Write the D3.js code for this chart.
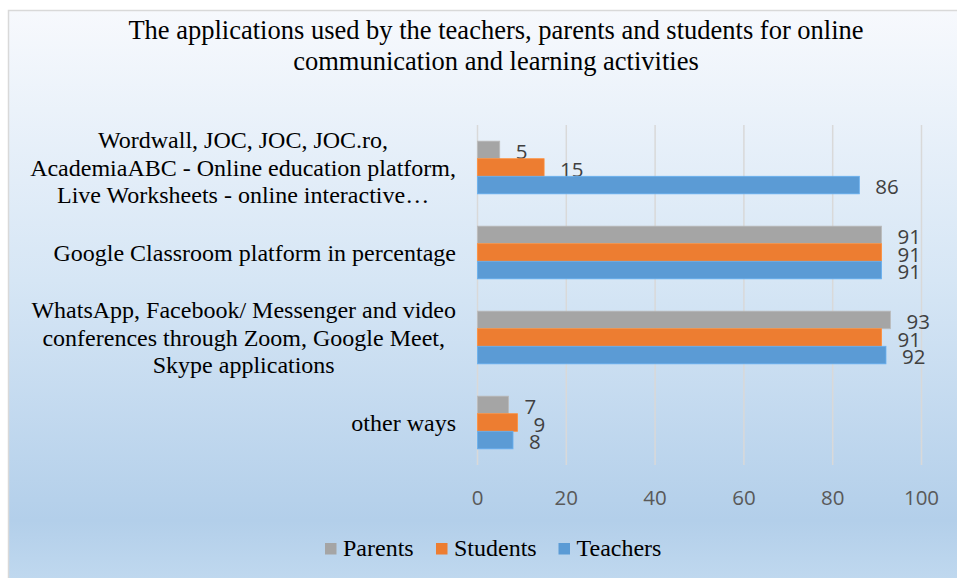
<!DOCTYPE html>
<meta charset="utf-8">
<style>
  body { margin: 0; background: #fff; }
  svg { display: block; }
</style>
<body>
<svg></svg>
<script src="https://cdn.jsdelivr.net/npm/d3@7"></script>
<script>
	// chart values
	var categories = [
		["Wordwall, JOC, JOC, JOC.ro,", "AcademiaABC - Online education platform,", "Live Worksheets - online interactive\u2026"],
		["Google Classroom platform in percentage"],
		["WhatsApp, Facebook/ Messenger and video", "conferences through Zoom, Google Meet,", "Skype applications"],
		["other ways"]
	];
	var seriesNames = ["Parents", "Students", "Teachers"];
	var parents  = [5, 91, 93, 7];
	var students = [15, 91, 91, 9];
	var teachers = [86, 91, 92, 8];
	var xTicks = [0, 20, 40, 60, 80, 100];
	var titleLines = [
		"The applications used by the teachers, parents and students for online",
		"communication and learning activities"
	];

	var SVG_WIDTH = 957,
		SVG_HEIGHT = 578;

	var colors = { "Parents": "#A5A5A5", "Students": "#ED7D31", "Teachers": "#5B9BD5" };
	var values = { "Parents": parents, "Students": students, "Teachers": teachers };

	var svg = d3.select("svg")
				.attr("width", SVG_WIDTH)
				.attr("height", SVG_HEIGHT);

	var defs = svg.append("defs");
	var grad = defs.append("linearGradient")
				   .attr("id", "bg")
				   .attr("x1", "0").attr("y1", "0")
				   .attr("x2", "0").attr("y2", "1");
	grad.append("stop").attr("offset", "0%").attr("stop-color", "#F7F9FD");
	grad.append("stop").attr("offset", "45%").attr("stop-color", "#D6E6F5");
	grad.append("stop").attr("offset", "85%").attr("stop-color", "#B3CFEA");
	grad.append("stop").attr("offset", "100%").attr("stop-color", "#C6DDF1");

	// chart area runs off the right and bottom of the picture
	svg.append("rect")
	   .attr("x", 8.5)
	   .attr("y", 10.5)
	   .attr("width", 1000)
	   .attr("height", 600)
	   .attr("fill", "url(#bg)")
	   .attr("stroke", "#D9D9D9")
	   .attr("stroke-width", 1.5);

	// title
	svg.append("text")
	   .attr("x", 496)
	   .attr("y", 39)
	   .attr("text-anchor", "middle")
	   .style("font-family", "'Liberation Serif', 'Times New Roman', serif")
	   .style("font-size", "26.5px")
	   .style("fill", "#000")
	   .selectAll("tspan")
	   .data(titleLines)
	   .enter()
	   .append("tspan")
	   .attr("x", 496)
	   .attr("dy", function(d, i){ return i == 0 ? 0 : 30.5; })
	   .text(function(d){ return d; });

	var x = d3.scaleLinear()
			  .domain([0, 100])
			  .range([477.5, 921.5]);

	var y0 = d3.scaleBand()
			   .domain(d3.range(categories.length))
			   .range([125, 465])
			   .padding(0);

	var y1 = d3.scaleBand()
			   .domain(seriesNames)
			   .range([y0.bandwidth() * 0.19, y0.bandwidth() * 0.81]);

	// gridlines
	svg.append("g")
	   .selectAll("line")
	   .data(xTicks)
	   .enter()
	   .append("line")
	   .attr("x1", function(d){ return x(d); })
	   .attr("x2", function(d){ return x(d); })
	   .attr("y1", 125)
	   .attr("y2", 465)
	   .attr("stroke", "#D9D9D9")
	   .attr("stroke-width", 1.5);

	// tick labels
	svg.append("g")
	   .selectAll("text")
	   .data(xTicks)
	   .enter()
	   .append("text")
	   .attr("x", function(d){ return x(d); })
	   .attr("y", 497)
	   .attr("text-anchor", "middle")
	   .attr("dominant-baseline", "central")
	   .style("font-family", "'Open Sans', 'Liberation Sans', sans-serif")
	   .style("font-size", "20.5px")
	   .style("fill", "#595959")
	   .text(function(d){ return d; });

	// bars
	var groups = svg.append("g")
					.selectAll("g")
					.data(categories)
					.enter()
					.append("g")
					.attr("transform", function(d, i){ return "translate(0," + y0(i) + ")"; });

	groups.each(function(d, ci){
		var grp = d3.select(this);
		seriesNames.forEach(function(s){
			var v = values[s][ci];
			grp.append("rect")
			   .attr("x", x(0))
			   .attr("y", y1(s))
			   .attr("width", x(v) - x(0))
			   .attr("height", y1.bandwidth())
			   .attr("fill", colors[s])
			   .attr("stroke", d3.color(colors[s]).brighter(0.35))
			   .attr("stroke-width", 0.8);

			grp.append("text")
			   .attr("x", x(v) + 16)
			   .attr("y", y1(s) + y1.bandwidth() / 2 + 1)
			   .attr("dominant-baseline", "central")
			   .style("font-family", "'Open Sans', 'Liberation Sans', sans-serif")
			   .style("font-size", "20.5px")
			   .style("fill", "#404040")
			   .text(v);
		});
	});

	// category labels, wrapped lines centred on each other, block right aligned
	groups.each(function(lines, ci){
		var grp = d3.select(this);
		var lineH = 27.7;
		var t = grp.append("text")
				   .attr("text-anchor", "middle")
				   .style("font-family", "'Liberation Serif', 'Times New Roman', serif")
				   .style("font-size", "24px")
				   .style("fill", "#000");
		var spans = t.selectAll("tspan")
					 .data(lines)
					 .enter()
					 .append("tspan")
					 .attr("y", function(d, i){
						return y0.bandwidth() / 2 + (i - (lines.length - 1) / 2) * lineH + 8;
					 })
					 .text(function(d){ return d; });
		var maxW = 0;
		spans.each(function(){ maxW = Math.max(maxW, this.getComputedTextLength()); });
		spans.attr("x", 456 - maxW / 2);
	});

	// legend
	var legendX = [325, 436, 558.5];
	var legend = svg.append("g")
					.selectAll("g")
					.data(seriesNames)
					.enter()
					.append("g")
					.attr("transform", function(d, i){ return "translate(" + legendX[i] + ",543)"; });

	legend.append("rect")
		  .attr("width", 11.5)
		  .attr("height", 11.5)
		  .attr("fill", function(d){ return colors[d]; });

	legend.append("text")
		  .attr("x", 18)
		  .attr("y", 13)
		  .style("font-family", "'Liberation Serif', 'Times New Roman', serif")
		  .style("font-size", "24px")
		  .style("fill", "#000")
		  .text(function(d){ return d; });
</script>
</body>
